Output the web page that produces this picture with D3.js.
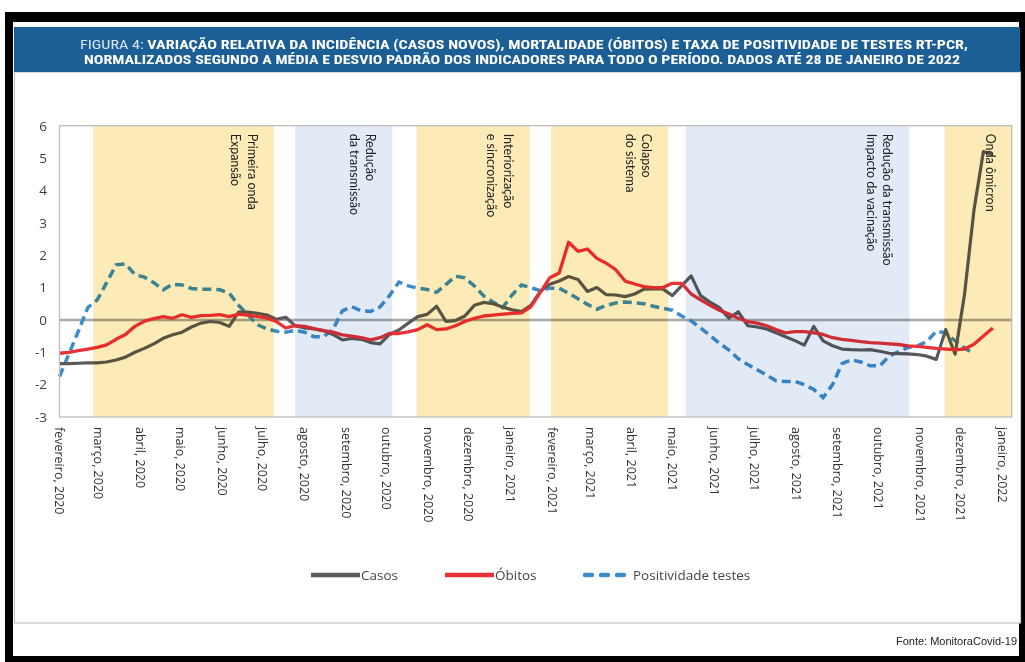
<!DOCTYPE html>
<html>
<head>
<meta charset="utf-8">
<script src="https://cdn.jsdelivr.net/npm/d3@7"></script>
<style>
  html, body { margin: 0; padding: 0; background: #fff; }
  svg { display: block; font-family: "Open Sans", "Noto Sans", sans-serif; }
</style>
</head>
<body>
<svg id="chart" width="1025" height="662"></svg>
<script>
// weekly series, first week starts on this date
const firstWeek = "2020-02-01";
const lastDay = "2022-01-08";

const casos = [
  -1.35, -1.35, -1.34, -1.33, -1.33, -1.30, -1.24, -1.15, -1.00, -0.88,
  -0.74, -0.57, -0.46, -0.38, -0.22, -0.10, -0.05, -0.08, -0.20, 0.24,
  0.24, 0.20, 0.15, 0.02, 0.08, -0.18, -0.25, -0.28, -0.33, -0.45,
  -0.62, -0.57, -0.60, -0.70, -0.74, -0.45, -0.31, -0.10, 0.10, 0.17,
  0.42, -0.05, -0.02, 0.12, 0.45, 0.54, 0.50, 0.40, 0.31, 0.26,
  0.45, 0.88, 1.10, 1.20, 1.34, 1.25, 0.88, 1.00, 0.78, 0.77,
  0.72, 0.80, 0.95, 0.96, 0.96, 0.75, 1.06, 1.36, 0.75, 0.55,
  0.38, 0.05, 0.25, -0.18, -0.22, -0.28, -0.40, -0.52, -0.64, -0.78,
  -0.20, -0.65, -0.80, -0.90, -0.92, -0.93, -0.92, -0.97, -1.03, -1.04,
  -1.05, -1.07, -1.12, -1.22, -0.30, -1.06, 0.80, 3.40, 5.20, 5.10
];

const obitos = [
  -1.03, -1.00, -0.95, -0.90, -0.85, -0.77, -0.60, -0.45, -0.20, -0.04,
  0.04, 0.10, 0.05, 0.16, 0.08, 0.13, 0.14, 0.16, 0.10, 0.18,
  0.15, 0.10, 0.06, -0.05, -0.25, -0.18, -0.20, -0.27, -0.33, -0.38,
  -0.46, -0.50, -0.55, -0.62, -0.55, -0.42, -0.42, -0.37, -0.30, -0.15,
  -0.30, -0.28, -0.18, -0.05, 0.05, 0.12, 0.15, 0.18, 0.20, 0.22,
  0.40, 0.85, 1.30, 1.45, 2.40, 2.12, 2.19, 1.90, 1.75, 1.55,
  1.20, 1.11, 1.03, 1.00, 1.00, 1.13, 1.13, 0.80, 0.62, 0.45,
  0.30, 0.18, 0.05, -0.05, -0.10, -0.18, -0.30, -0.40, -0.36, -0.36,
  -0.40, -0.45, -0.55, -0.60, -0.63, -0.67, -0.70, -0.72, -0.74, -0.76,
  -0.80, -0.82, -0.85, -0.88, -0.90, -0.92, -0.90, -0.75, -0.50, -0.25
];

const positividade = [
  -1.75, -1.05, -0.35, 0.38, 0.62, 1.15, 1.70, 1.73, 1.40, 1.32,
  1.15, 0.93, 1.10, 1.08, 0.97, 0.95, 0.95, 0.93, 0.83, 0.45,
  0.15, -0.15, -0.28, -0.35, -0.38, -0.32, -0.38, -0.52, -0.52, -0.30,
  0.28, 0.41, 0.28, 0.26, 0.40, 0.75, 1.17, 1.05, 0.98, 0.94,
  0.85, 1.10, 1.35, 1.30, 1.05, 0.74, 0.55, 0.38, 0.77, 1.08,
  1.00, 0.90, 0.98, 0.98, 0.82, 0.65, 0.48, 0.33, 0.45, 0.52,
  0.55, 0.53, 0.50, 0.42, 0.36, 0.30, 0.12, -0.03, -0.25, -0.48,
  -0.72, -0.93, -1.20, -1.38, -1.54, -1.70, -1.88, -1.90, -1.90, -2.00,
  -2.15, -2.40, -2.00, -1.35, -1.23, -1.30, -1.42, -1.42, -1.12, -0.98,
  -0.85, -0.80, -0.67, -0.35, -0.40, -0.65, -0.87, -1.05
];

const monthLabels = [
  "fevereiro, 2020", "março, 2020", "abril, 2020", "maio, 2020", "junho, 2020",
  "julho, 2020", "agosto, 2020", "setembro, 2020", "outubro, 2020",
  "novembro, 2020", "dezembro, 2020", "janeiro, 2021", "fevereiro, 2021",
  "março, 2021", "abril, 2021", "maio, 2021", "junho, 2021", "julho, 2021",
  "agosto, 2021", "setembro, 2021", "outubro, 2021", "novembro, 2021",
  "dezembro, 2021", "janeiro, 2022"
];

const yTicks = [6, 5, 4, 3, 2, 1, 0, -1, -2, -3];

// phases of the epidemic (start, end, type, label lines)
const phaseStarts = ["2020-02-26", "2020-07-25", "2020-10-23", "2021-01-31", "2021-05-11", "2021-11-19"];
const phaseEnds   = ["2020-07-09", "2020-10-05", "2021-01-15", "2021-04-28", "2021-10-24", "2022-01-08"];
const phaseTypes  = ["onda", "reducao", "onda", "onda", "reducao", "onda"];
const phaseLabels = [
  ["Primeira onda", "Expansão"],
  ["Redução", "da transmissão"],
  ["Interiorização", "e sincronização"],
  ["Colapso", "do sistema"],
  ["Redução da transmissão", "Impacto da vacinação"],
  ["Onda ômicron"]
];

const seriesNames = ["Casos", "Óbitos", "Positividade testes"];

const titleLine1a = "FIGURA 4: ";
const titleLine1b = "VARIAÇÃO RELATIVA DA INCIDÊNCIA (CASOS NOVOS), MORTALIDADE (ÓBITOS) E TAXA DE POSITIVIDADE DE TESTES RT-PCR,";
const titleLine2 = "NORMALIZADOS SEGUNDO A MÉDIA E DESVIO PADRÃO DOS INDICADORES PARA TODO O PERÍODO. DADOS ATÉ 28 DE JANEIRO DE 2022";
const sourceText = "Fonte: MonitoraCovid-19";

// ---------------------------------------------------------------
const parse = d3.timeParse("%Y-%m-%d");
const start = parse(firstWeek);
const weekDate = (i) => d3.timeDay.offset(start, 7 * i);

const svg = d3.select("#chart");
const plot = { left: 59.5, right: 1011.7, top: 125.7, bottom: 417 };

const x = d3.scaleTime()
  .domain([start, parse(lastDay)])
  .range([plot.left, plot.right]);

const y = d3.scaleLinear()
  .domain([-3, 6])
  .range([plot.bottom, plot.top]);

// page frame
svg.append("rect").attr("x", 5).attr("y", 12).attr("width", 1020).attr("height", 650).attr("fill", "#000");
svg.append("rect").attr("x", 13).attr("y", 22).attr("width", 1006).attr("height", 634).attr("fill", "#fff");
svg.append("rect").attr("x", 14.5).attr("y", 72).attr("width", 1006).attr("height", 551)
  .attr("fill", "#fff").attr("stroke", "#c4c4c4").attr("stroke-width", 1.2);

// header
svg.append("rect").attr("x", 14).attr("y", 27).attr("width", 1006).attr("height", 45).attr("fill", "#1c5f97");
const titleFont = '"Liberation Sans Narrow", "Arial Narrow", "Roboto Condensed", "Liberation Sans", sans-serif';
const t1 = svg.append("text")
  .attr("x", 524).attr("y", 48.5)
  .attr("text-anchor", "middle")
  .attr("fill", "#fff")
  .attr("font-family", titleFont)
  .attr("font-size", 12.5)
  .attr("textLength", 888)
  .attr("lengthAdjust", "spacingAndGlyphs");
t1.append("tspan").attr("fill", "#dce7f2").text(titleLine1a);
t1.append("tspan").attr("font-weight", "bold").text(titleLine1b);
svg.append("text")
  .attr("x", 522).attr("y", 64)
  .attr("text-anchor", "middle")
  .attr("fill", "#fff")
  .attr("font-family", titleFont)
  .attr("font-size", 12.5)
  .attr("font-weight", "bold")
  .attr("textLength", 876)
  .attr("lengthAdjust", "spacingAndGlyphs")
  .text(titleLine2);

// plot group (lines first, bands multiplied on top like in the original)
const g = svg.append("g");

g.append("line")
  .attr("x1", plot.left).attr("x2", plot.right)
  .attr("y1", y(0)).attr("y2", y(0))
  .attr("stroke", "#a8a8a8").attr("stroke-width", 2.5);

const line = d3.line()
  .x((d, i) => x(weekDate(i)))
  .y((d) => y(d));

g.append("path").datum(positividade)
  .attr("d", line)
  .attr("fill", "none")
  .attr("stroke", "#3d8dca")
  .attr("stroke-width", 3.5)
  .attr("stroke-dasharray", "9,5");

g.append("path").datum(casos)
  .attr("d", line)
  .attr("fill", "none")
  .attr("stroke", "#5a5a5a")
  .attr("stroke-width", 3.2)
  .attr("stroke-linejoin", "round");

g.append("path").datum(obitos)
  .attr("d", line)
  .attr("fill", "none")
  .attr("stroke", "#ea3138")
  .attr("stroke-width", 3.3)
  .attr("stroke-linejoin", "round");

const bandColor = { onda: "#fcebb7", reducao: "#e2ebf5" };
const phases = phaseStarts.map((s, i) => ({
  start: parse(s), end: parse(phaseEnds[i]), type: phaseTypes[i], lines: phaseLabels[i]
}));

g.selectAll("rect.band")
  .data(phases)
  .enter()
  .append("rect")
  .attr("class", "band")
  .attr("x", (d) => x(d.start))
  .attr("width", (d) => x(d.end) - x(d.start))
  .attr("y", plot.top)
  .attr("height", plot.bottom - plot.top)
  .attr("fill", (d) => bandColor[d.type])
  .style("mix-blend-mode", "multiply");

// plot frame
svg.append("rect")
  .attr("x", plot.left).attr("y", plot.top)
  .attr("width", plot.right - plot.left).attr("height", plot.bottom - plot.top)
  .attr("fill", "none").attr("stroke", "#bdbdbd").attr("stroke-width", 1.3);

// phase labels, rotated
const labels = svg.selectAll("text.phase")
  .data(phases)
  .enter()
  .append("text")
  .attr("class", "phase")
  .attr("font-family", "Lato, 'Open Sans', sans-serif")
  .attr("font-size", 12.5)
  .attr("fill", "#222")
  .attr("transform", (d) => {
    const cx = Math.min(x(d.end) - 22, plot.right - 12);
    return `translate(${cx - 4},${plot.top + 8}) rotate(90)`;
  });
labels.selectAll("tspan")
  .data((d) => d.lines)
  .enter()
  .append("tspan")
  .attr("x", 0)
  .attr("dy", (d, i) => (i === 0 ? 0 : 16.5))
  .text((d) => d);

// y axis labels
svg.selectAll("text.ytick")
  .data(yTicks)
  .enter()
  .append("text")
  .attr("class", "ytick")
  .attr("x", 47)
  .attr("y", (d) => y(d))
  .attr("dy", "0.36em")
  .attr("text-anchor", "end")
  .attr("font-size", 13.5)
  .attr("fill", "#3f3f3f")
  .text((d) => d);

// x axis labels, one per month, rotated
const months = d3.timeMonth.range(start, d3.timeDay.offset(parse(lastDay), 1));
svg.selectAll("text.xtick")
  .data(months)
  .enter()
  .append("text")
  .attr("class", "xtick")
  .attr("font-size", 12.5)
  .attr("fill", "#333")
  .attr("transform", (d) => `translate(${x(d) - 4.5},${plot.bottom + 10}) rotate(90)`)
  .text((d, i) => monthLabels[i]);

// legend
const legendX = [311, 445, 583];
const legendColors = ["#5a5a5a", "#ea3138", "#3d8dca"];
const leg = svg.selectAll("g.leg")
  .data(seriesNames)
  .enter()
  .append("g")
  .attr("class", "leg")
  .attr("transform", (d, i) => `translate(${legendX[i]},575)`);
leg.append("line")
  .attr("x1", (d, i) => (i === 2 ? 2 : 0))
  .attr("x2", (d, i) => (i === 2 ? 44 : 49))
  .attr("stroke", (d, i) => legendColors[i])
  .attr("stroke-width", 4.5)
  .attr("stroke-linecap", (d, i) => (i === 2 ? "round" : "butt"))
  .attr("stroke-dasharray", (d, i) => (i === 2 ? "7,9" : null));
leg.append("text")
  .attr("x", 50)
  .attr("dy", "0.35em")
  .attr("font-size", 13.5)
  .attr("fill", "#444")
  .text((d) => d);

// source
svg.append("text")
  .attr("x", 1017).attr("y", 645)
  .attr("text-anchor", "end")
  .attr("font-family", '"Liberation Sans", Arial, sans-serif')
  .attr("font-size", 11)
  .attr("fill", "#222")
  .text(sourceText);
</script>
</body>
</html>
